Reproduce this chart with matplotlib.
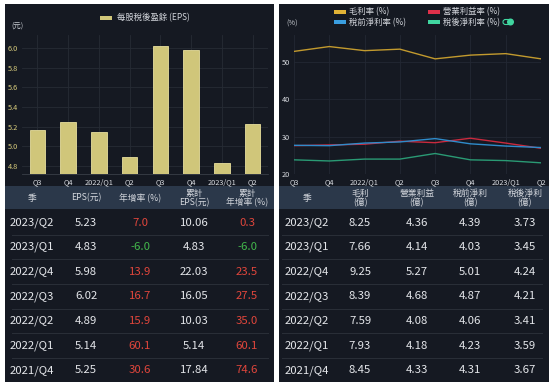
import matplotlib
matplotlib.use("Agg")
import matplotlib.pyplot as plt
from matplotlib.patches import Rectangle, FancyBboxPatch, Circle

plt.rcParams['font.family'] = ['Noto Sans CJK TC', 'DejaVu Sans']

# chart data
quarters = ['Q3', 'Q4', '2022/Q1', 'Q2', 'Q3', 'Q4', '2023/Q1', 'Q2']
eps = [5.16, 5.25, 5.14, 4.89, 6.02, 5.98, 4.83, 5.23]
gross_margin = [52.9, 54.2, 53.1, 53.5, 50.9, 51.9, 52.3, 50.9]
op_margin = [27.6, 27.8, 28.0, 28.8, 28.4, 29.6, 28.3, 26.9]
pretax_margin = [27.7, 27.6, 28.3, 28.6, 29.5, 28.1, 27.5, 27.1]
net_margin = [23.8, 23.5, 24.0, 24.0, 25.5, 23.8, 23.6, 23.0]

# table data
seasons = ['2023/Q2', '2023/Q1', '2022/Q4', '2022/Q3', '2022/Q2', '2022/Q1', '2021/Q4']
eps_tbl = ['5.23', '4.83', '5.98', '6.02', '4.89', '5.14', '5.25']
eps_yoy = [7.0, -6.0, 13.9, 16.7, 15.9, 60.1, 30.6]
cum_eps = ['10.06', '4.83', '22.03', '16.05', '10.03', '5.14', '17.84']
cum_yoy = [0.3, -6.0, 23.5, 27.5, 35.0, 60.1, 74.6]
gross = ['8.25', '7.66', '9.25', '8.39', '7.59', '7.93', '8.45']
op_inc = ['4.36', '4.14', '5.27', '4.68', '4.08', '4.18', '4.33']
pretax = ['4.39', '4.03', '5.01', '4.87', '4.06', '4.23', '4.31']
net = ['3.73', '3.45', '4.24', '4.21', '3.41', '3.59', '3.67']

W, H = 554, 387
BG = '#151922'
HEAD = '#2b384a'
WHITE = '#e4e6ea'
RED = '#e0463c'
GREEN = '#43b84c'

fig = plt.figure(figsize=(W / 100, H / 100), dpi=100, facecolor='white')
bg = fig.add_axes([0, 0, 1, 1])
bg.set_xlim(0, W)
bg.set_ylim(H, 0)
bg.axis('off')


def px_axes(x0, y0, x1, y1):
    return fig.add_axes([x0 / W, 1 - y1 / H, (x1 - x0) / W, (y1 - y0) / H])


for x0, x1 in [(5, 274), (279, 549)]:
    bg.add_patch(Rectangle((x0, 4), x1 - x0, 378, color=BG, lw=0))
    bg.add_patch(Rectangle((x0, 186), x1 - x0, 23, color=HEAD, lw=0))

row_y = [222.5 + i * 24.65 for i in range(7)]
for i in range(6):
    y = (row_y[i] + row_y[i + 1]) / 2
    bg.plot([12, 268], [y, y], color='#2a2f38', lw=0.7)
    bg.plot([282, 542], [y, y], color='#2a2f38', lw=0.7)

# left table
hfs = 6.3
tfs = 8.2
bg.text(32, 198, '季', color='#d5d8de', fontsize=hfs, ha='center', va='center')
bg.text(86, 198, 'EPS(元)', color='#d5d8de', fontsize=hfs, ha='center', va='center')
bg.text(140, 198, '年增率 (%)', color='#d5d8de', fontsize=hfs, ha='center', va='center')
bg.text(194, 198, '累計\nEPS(元)', color='#d5d8de', fontsize=hfs, ha='center', va='center', linespacing=1.0)
bg.text(247, 198, '累計\n年增率 (%)', color='#d5d8de', fontsize=hfs, ha='center', va='center', linespacing=1.0)
for i, y in enumerate(row_y):
    bg.text(32, y, seasons[i], color=WHITE, fontsize=tfs, ha='center', va='center')
    bg.text(86, y, eps_tbl[i], color=WHITE, fontsize=tfs, ha='center', va='center')
    bg.text(140, y, f'{eps_yoy[i]:.1f}', color=RED if eps_yoy[i] >= 0 else GREEN,
            fontsize=tfs, ha='center', va='center')
    bg.text(194, y, cum_eps[i], color=WHITE, fontsize=tfs, ha='center', va='center')
    bg.text(247, y, f'{cum_yoy[i]:.1f}', color=RED if cum_yoy[i] >= 0 else GREEN,
            fontsize=tfs, ha='center', va='center')

# right table
cols = [307, 360, 417, 470, 525]
heads = ['季', '毛利\n(億)', '營業利益\n(億)', '稅前淨利\n(億)', '稅後淨利\n(億)']
for x, h in zip(cols, heads):
    bg.text(x, 198, h, color='#d5d8de', fontsize=hfs, ha='center', va='center', linespacing=1.0)
for i, y in enumerate(row_y):
    for x, vals in zip(cols, [seasons, gross, op_inc, pretax, net]):
        bg.text(x, y, vals[i], color=WHITE, fontsize=tfs, ha='center', va='center')

# left chart: EPS bars
ax1 = px_axes(22, 35, 268, 174)
ax1.set_facecolor('none')
x = list(range(len(quarters)))
ax1.bar(x, eps, width=0.5, color='#d0c67a', edgecolor='#e8df9c', linewidth=0.6, zorder=3)
ax1.set_xlim(-0.5, 7.5)
ax1.set_ylim(4.715, 6.136)
ax1.set_yticks([4.8, 5.0, 5.2, 5.4, 5.6, 5.8, 6.0])
ax1.set_xticks(x)
ax1.set_xticklabels(quarters)
ax1.tick_params(axis='x', colors='#d8dbe0', labelsize=5.3, length=0, pad=3)
ax1.tick_params(axis='y', colors='#d8cc7c', labelsize=5.3, length=0, pad=3)
ax1.grid(True, color='#262b35', lw=0.6, zorder=0)
for s in ['top', 'right', 'left']:
    ax1.spines[s].set_visible(False)
ax1.spines['bottom'].set_color('#3a3f48')
ax1.spines['bottom'].set_linewidth(0.6)
bg.add_patch(Rectangle((100, 16), 12, 4, color='#d0c67a', lw=0))
bg.text(117, 18, '每股稅後盈餘 (EPS)', color='#d5d8de', fontsize=6, va='center')
bg.text(17, 27, '(元)', color='#c8ccd2', fontsize=5.3, ha='center', va='center')

# right chart: margin lines
ax2 = px_axes(294, 35, 541, 174)
ax2.set_facecolor('none')
series = [
    (gross_margin, '#c29a2e', '#e0b236', '毛利率 (%)'),
    (op_margin, '#c92a3e', '#e0304a', '營業利益率 (%)'),
    (pretax_margin, '#2f8ccb', '#3a9ee0', '稅前淨利率 (%)'),
    (net_margin, '#2a9a74', '#40d6a0', '稅後淨利率 (%)'),
]
for vals, c, _, _ in series:
    ax2.plot(x, vals, color=c, lw=1.0, zorder=3)
ax2.set_xlim(0, 7)
ax2.set_ylim(20, 57.3)
ax2.set_yticks([20, 30, 40, 50])
ax2.set_xticks(x)
ax2.set_xticklabels(quarters)
ax2.tick_params(axis='x', colors='#d8dbe0', labelsize=5.3, length=0, pad=3)
ax2.tick_params(axis='y', colors='#d8dbe0', labelsize=5.3, length=0, pad=3)
ax2.grid(True, color='#232833', lw=0.6, zorder=0)
for s in ax2.spines.values():
    s.set_visible(False)

leg_pos = [(334, 11.7), (428, 11.7), (334, 22.3), (428, 22.3)]
for (px, py), (_, _, lc, label) in zip(leg_pos, series):
    bg.add_patch(Rectangle((px, py - 2), 12, 4, color=lc, lw=0))
    bg.text(px + 15, py, label, color='#d5d8de', fontsize=6, va='center')
bg.add_patch(FancyBboxPatch((503, 19.5), 9, 5, boxstyle='round,pad=0,rounding_size=2.5',
                            fc='none', ec='#40d6a0', lw=0.8))
bg.add_patch(Circle((510.5, 22), 2.8, color='#40d6a0'))
bg.text(292, 24, '(%)', color='#c8ccd2', fontsize=5.3, ha='center', va='center')

fig.savefig('out.png', dpi=100, facecolor='white')
